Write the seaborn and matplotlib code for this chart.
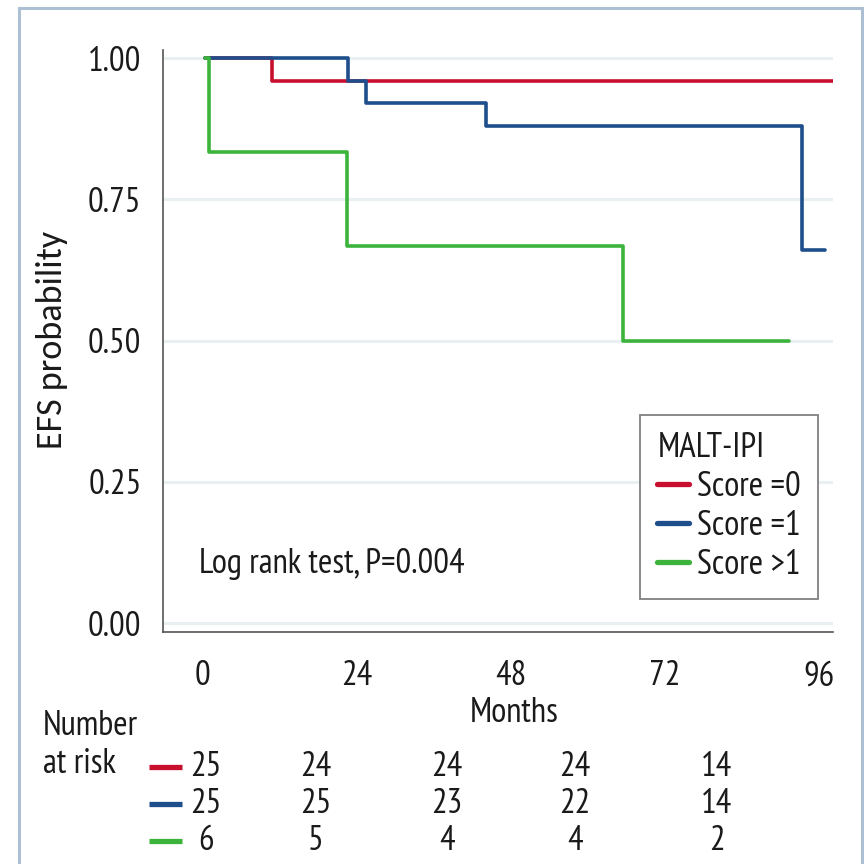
import numpy as np
import pandas as pd
import matplotlib
matplotlib.use("Agg")
import matplotlib.pyplot as plt
import seaborn as sns
from matplotlib import font_manager
from matplotlib.patches import Rectangle

# ---------------- data ----------------
groups = ["Score =0", "Score =1", "Score >1"]
red_months = [0.3, 10.8, 98.2]
red_surv = [1.00, 0.96, 0.96]
blue_months = [0.3, 22.6, 25.4, 44.1, 93.3, 96.9]
blue_surv = [1.00, 0.96, 0.92, 0.88, 0.66, 0.66]
green_months = [0.3, 0.9, 22.4, 65.4, 91.3]
green_surv = [1.00, 0.833, 0.667, 0.50, 0.50]

x_ticks = [0, 24, 48, 72, 96]
y_ticks = [0.00, 0.25, 0.50, 0.75, 1.00]
y_tick_labels = ["0.00", "0.25", "0.50", "0.75", "1.00"]

risk_positions = [0.5, 17.6, 38.0, 58.0, 80.1]
risk_red = [25, 24, 24, 24, 14]
risk_blue = [25, 25, 23, 22, 14]
risk_green = [6, 5, 4, 4, 2]

colors = {"Score =0": "#c8102e", "Score =1": "#1f4e8c", "Score >1": "#3cb43c"}

# ---------------- style ----------------
sns.set_theme(style="white")
names = {f.name for f in font_manager.fontManager.ttflist}
if "PT Sans Narrow" in names:
    FONT, FS = "PT Sans Narrow", 25
elif "Barlow Condensed" in names:
    FONT, FS = "Barlow Condensed", 25
else:
    FONT, FS = "Liberation Sans", 20
YFONT = "Carlito" if "Carlito" in names else FONT
plt.rcParams["font.family"] = [FONT, "DejaVu Sans"]
TXT = "#1a1a1a"

df = pd.concat([
    pd.DataFrame({"months": red_months, "surv": red_surv, "group": groups[0]}),
    pd.DataFrame({"months": blue_months, "surv": blue_surv, "group": groups[1]}),
    pd.DataFrame({"months": green_months, "surv": green_surv, "group": groups[2]}),
], ignore_index=True)

W = H = 864
fig = plt.figure(figsize=(8.64, 8.64), dpi=100)
fig.patch.set_facecolor("white")
ax = fig.add_axes([163 / W, 1 - 632 / H, 670 / W, 582 / H])

sns.lineplot(data=df, x="months", y="surv", hue="group", hue_order=groups,
             palette=colors, estimator=None, sort=False,
             drawstyle="steps-post", linewidth=2.6, ax=ax, legend=True)

ax.set_xlim(-6.23, 98.18)
ax.set_ylim(-0.0159, 1.0142)
ax.set_xticks(x_ticks)
ax.set_xticklabels([str(t) for t in x_ticks])
ax.set_yticks(y_ticks)
ax.set_yticklabels(y_tick_labels)
ax.yaxis.grid(True, color="#e8f0f2", linewidth=2.2)
ax.xaxis.grid(False)
ax.set_axisbelow(True)

for s in ["top", "right"]:
    ax.spines[s].set_visible(False)
for s in ["left", "bottom"]:
    ax.spines[s].set_color("#555555")
    ax.spines[s].set_linewidth(1.2)

ax.tick_params(axis="both", direction="out", length=6.5, width=1.1,
               color="#555555", labelsize=FS, labelcolor=TXT)
ax.tick_params(axis="y", pad=9)
ax.tick_params(axis="x", pad=14)

ax.set_xlabel("Months", fontsize=FS, color=TXT)
ax.xaxis.label.set_va("baseline")
ax.xaxis.set_label_coords((514 - 163) / 670, (632 - 722) / 582)
ax.set_ylabel("EFS probability", fontsize=FS + 1, color=TXT, family=[YFONT, "DejaVu Sans"])
ax.yaxis.label.set_va("center")
ax.yaxis.set_label_coords((52 - 163) / 670, (632 - 340) / 582)

ax.text(-0.6, (623 - 573) / 565, "Log rank test, P=0.004", fontsize=FS,
        color=TXT, ha="left", va="baseline")

# legend
handles, labels = ax.get_legend_handles_labels()
leg = ax.legend(handles, labels, title="MALT-IPI", loc="upper left",
                bbox_to_anchor=(640 / W, 1 - 415 / H, 178 / W, 0.0),
                bbox_transform=fig.transFigure, mode="expand",
                frameon=True, fancybox=False, edgecolor="#808080",
                framealpha=1, handlelength=0.92, handletextpad=0.22,
                labelspacing=0.2, borderpad=0.5, alignment="left",
                fontsize=FS, title_fontsize=FS, borderaxespad=0)
leg.get_frame().set_linewidth(1.3)
for t in leg.get_texts():
    t.set_color(TXT)
leg.get_title().set_color(TXT)
for ln in leg.get_lines():
    ln.set_linewidth(3.8)

# number at risk table
fig.text(43 / W, 1 - 735 / H, "Number", fontsize=FS, color=TXT, ha="left", va="baseline")
fig.text(43 / W, 1 - 773 / H, "at risk", fontsize=FS, color=TXT, ha="left", va="baseline")
xt = ax.get_xaxis_transform()
row_baselines = [776, 813, 850]
for grp, row, yb in zip(groups, [risk_red, risk_blue, risk_green], row_baselines):
    ya = (632 - yb) / 582
    ax.plot([(149 - 203) / 6.417, (182 - 203) / 6.417], [ya + 9 / 582] * 2,
            transform=xt, clip_on=False, color=colors[grp], linewidth=3.8,
            solid_capstyle="butt")
    for xp, n in zip(risk_positions, row):
        ax.text(xp, ya, str(n), transform=xt, fontsize=FS, color=TXT,
                ha="center", va="baseline", clip_on=False)

# outer frame
fig.add_artist(Rectangle((19 / W, -0.1), (862 - 19) / W, 1.1 - 8 / H,
                         transform=fig.transFigure, fill=False,
                         edgecolor="#adbfd2", linewidth=2.2))

fig.savefig("out.png", dpi=100, facecolor="white")
